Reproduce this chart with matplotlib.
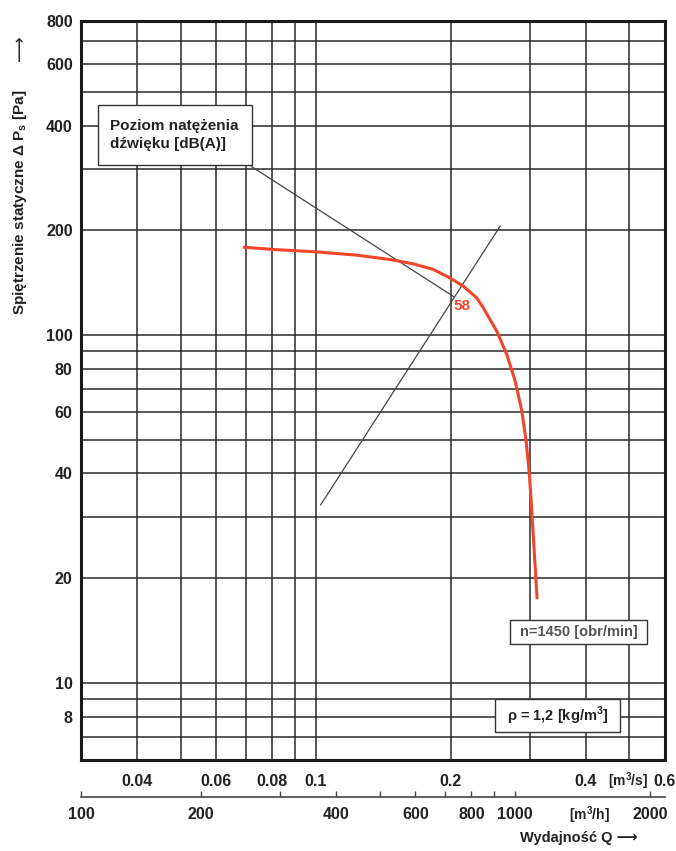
import matplotlib
matplotlib.use("Agg")
import matplotlib.pyplot as plt
from matplotlib.ticker import FixedLocator, FixedFormatter, NullFormatter, LogLocator
from matplotlib.patches import Rectangle
import matplotlib.transforms as mtransforms

plt.rcParams['font.family'] = ['Liberation Sans', 'DejaVu Sans']

# ---- data ----
fan_q = [0.0688, 0.0803, 0.1004, 0.1233, 0.1463, 0.1649, 0.1827, 0.1991, 0.2133, 0.2284,
         0.2362, 0.2531, 0.2665, 0.2782, 0.2879, 0.2943, 0.2988, 0.3024, 0.3055, 0.3087, 0.3114]
fan_p = [179.0, 176.3, 173.5, 169.8, 165.0, 160.3, 154.5, 146.1, 138.2, 128.0,
         119.8, 102.7, 88.0, 73.8, 60.5, 49.6, 40.7, 32.6, 26.2, 21.0, 17.4]
system_q = [0.1026, 0.2575]
system_p = [32.5, 205.6]
leader_q = [0.072, 0.203]
leader_p = [305, 129]
noise_label = "58"
noise_q = 0.2031
noise_p = 121

y_ticks = [8, 10, 20, 40, 60, 80, 100, 200, 400, 600, 800]
y_ticklabels = ["8", "10", "20", "40", "60", "80", "100", "200", "400", "600", "800"]
x_ticks = [0.04, 0.06, 0.08, 0.1, 0.2, 0.4, 0.6]
x_ticklabels = ["0.04", "0.06", "0.08", "0.1", "0.2", "0.4", "0.6"]
h_ticks = [108, 200, 300, 400, 500, 600, 700, 800, 900, 1000, 2000]
h_ticklabels = ["100", "200", "", "400", "", "600", "", "800", "", "1000", "2000"]

TXT = '#222222'
GRID = '#2a2a2a'
RED = '#f2462a'

fig = plt.figure(figsize=(6.76, 8.51), dpi=100)
ax = fig.add_axes([0.1198, 0.1069, 0.8639, 0.8684])
ax.set_xscale('log')
ax.set_yscale('log')
ax.set_xlim(0.03, 0.6)
ax.set_ylim(6, 800)

ax.xaxis.set_major_locator(FixedLocator(x_ticks))
ax.xaxis.set_major_formatter(FixedFormatter(x_ticklabels))
ax.xaxis.set_minor_locator(LogLocator(base=10, subs=range(1, 10)))
ax.xaxis.set_minor_formatter(NullFormatter())
ax.yaxis.set_major_locator(FixedLocator(y_ticks))
ax.yaxis.set_major_formatter(FixedFormatter(y_ticklabels))
ax.yaxis.set_minor_locator(LogLocator(base=10, subs=range(1, 10)))
ax.yaxis.set_minor_formatter(NullFormatter())

ax.grid(True, which='both', color=GRID, lw=1.1)
ax.set_axisbelow(True)
ax.tick_params(which='both', length=0)
ax.tick_params(axis='y', pad=6, labelsize=11.5, labelcolor=TXT)
ax.tick_params(axis='x', pad=10, labelsize=11.5, labelcolor=TXT)
for lab in ax.get_xticklabels() + ax.get_yticklabels():
    lab.set_fontweight('bold')
for s in ax.spines.values():
    s.set_linewidth(2.2)
    s.set_color('#1a1a1a')

# curves
ax.plot(fan_q, fan_p, color=RED, lw=2.2, solid_joinstyle='round', solid_capstyle='butt', zorder=4)
ax.plot(system_q, system_p, color='#444444', lw=0.9, zorder=3)
ax.plot(leader_q, leader_p, color='#444444', lw=0.9, zorder=3)
ax.text(noise_q, noise_p, noise_label, color=RED, fontsize=11, fontweight='bold',
        ha='left', va='center', zorder=5)

# boxes
def box(x0, y0, x1, y1):
    ax.add_patch(Rectangle((x0, y0), x1 - x0, y1 - y0, transform=ax.transAxes,
                           facecolor='white', edgecolor='#333333', lw=1.0, zorder=5))

box(0.029, 0.805, 0.293, 0.886)
ax.text(0.050, 0.8455, "Poziom natężenia\ndźwięku [dB(A)]", transform=ax.transAxes,
        ha='left', va='center', fontsize=11, fontweight='bold', color=TXT,
        linespacing=1.35, zorder=6)

box(0.7346, 0.157, 0.969, 0.1894)
ax.text(0.852, 0.1732, "n=1450 [obr/min]", transform=ax.transAxes, ha='center', va='center',
        fontsize=10.5, fontweight='bold', color='#555555', zorder=6)

box(0.709, 0.0379, 0.923, 0.0825)
ax.text(0.816, 0.0602, "ρ = 1,2 [kg/m$^\\mathregular{3}$]", transform=ax.transAxes,
        ha='center', va='center', fontsize=10.5, fontweight='bold', color=TXT, zorder=6)

# secondary axis in m3/h
sec = ax.secondary_xaxis(-0.05, functions=(lambda q: q * 3600, lambda h: h / 3600))
sec.xaxis.set_major_locator(FixedLocator(h_ticks))
sec.xaxis.set_major_formatter(FixedFormatter(h_ticklabels))
sec.xaxis.set_minor_locator(FixedLocator([]))
sec.tick_params(direction='in', length=4, width=1.0, color='#444444', pad=7,
                labelsize=11.5, labelcolor=TXT)
for lab in sec.get_xticklabels():
    lab.set_fontweight('bold')
sec.spines['bottom'].set_linewidth(1.2)
sec.spines['bottom'].set_color('#444444')

# unit labels
tr = mtransforms.blended_transform_factory(ax.transData, ax.transAxes)
ax.text(0.497, -0.014, "[m$^\\mathregular{3}$/s]", transform=tr, ha='center', va='top',
        fontsize=10, fontweight='bold', color=TXT)
ax.text(0.408, -0.060, "[m$^\\mathregular{3}$/h]", transform=tr, ha='center', va='top',
        fontsize=10, fontweight='bold', color=TXT)

# axis titles
fig.text(0.856, 0.0155, "Wydajność Q ⟶", ha='center', va='center', fontsize=10.5,
         fontweight='bold', color=TXT, family=['Liberation Sans', 'DejaVu Sans'])
fig.text(0.030, 0.7626, "Spiętrzenie statyczne Δ P$_\\mathregular{s}$ [Pa]", rotation=90,
         ha='center', va='center', fontsize=11, fontweight='bold', color=TXT)
fig.text(0.030, 0.944, "⟶", rotation=90, ha='center', va='center', fontsize=13,
         color=TXT, family=['DejaVu Sans'])

fig.savefig("out.png", dpi=100)
